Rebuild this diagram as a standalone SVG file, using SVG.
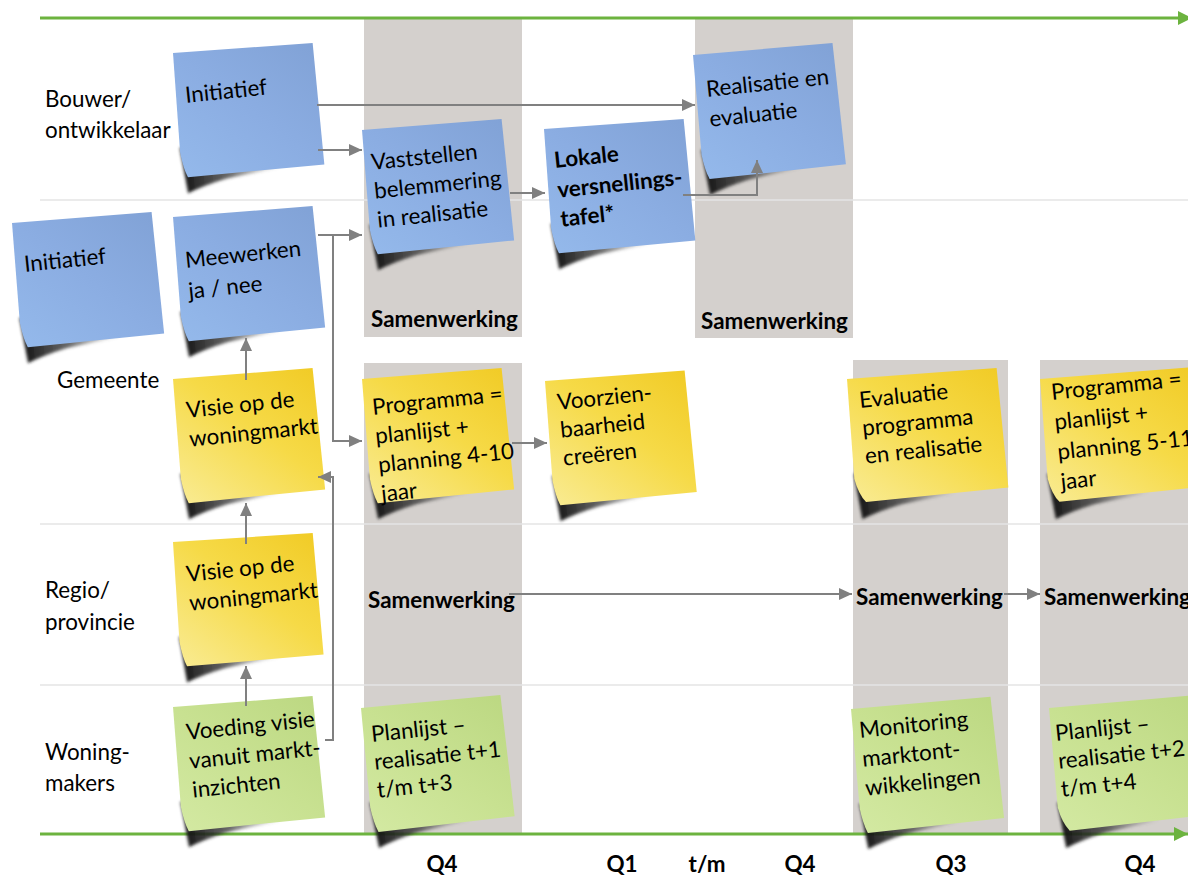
<svg xmlns="http://www.w3.org/2000/svg" width="1188" height="875" viewBox="0 0 1188 875">
<style>
  text { font-family: Lato, Carlito, "Liberation Sans", sans-serif; font-size: 22.4px; fill: #000; }
  .b { font-weight: bold; }
  .col { fill: #d4d0cd; }
  .sep { stroke: #e4e4e4; stroke-width: 1.5; fill: none; }
  .green { stroke: #6cb33f; stroke-width: 3; fill: none; marker-end: url(#ga); }
  .con { stroke: #808080; stroke-width: 2; fill: none; }
  .arr { marker-end: url(#a); }
  .q { font-weight: bold; text-anchor: middle; }
</style>
<defs>
  <marker id="a" markerUnits="userSpaceOnUse" markerWidth="13" markerHeight="12" refX="13" refY="6" orient="auto">
    <path d="M0,0 L13,6 L0,12 Z" fill="#808080"/>
  </marker>
  <marker id="ga" markerUnits="userSpaceOnUse" markerWidth="14" markerHeight="14" refX="14" refY="7" orient="auto">
    <path d="M0,0 L14,7 L0,14 Z" fill="#6cb33f"/>
  </marker>
  <linearGradient id="gBlue" x1="1" y1="0" x2="0" y2="1">
    <stop offset="0" stop-color="#81a2d6"/>
    <stop offset="0.5" stop-color="#8badE2"/>
    <stop offset="1" stop-color="#94b9eb"/>
  </linearGradient>
  <linearGradient id="gYellow" x1="1" y1="0" x2="0" y2="1">
    <stop offset="0" stop-color="#f1cb26"/>
    <stop offset="0.45" stop-color="#f6da47"/>
    <stop offset="1" stop-color="#f9eb92"/>
  </linearGradient>
  <linearGradient id="gGreen" x1="1" y1="0" x2="0" y2="1">
    <stop offset="0" stop-color="#bcd882"/>
    <stop offset="0.5" stop-color="#c8e191"/>
    <stop offset="1" stop-color="#d3e9a2"/>
  </linearGradient>
  <linearGradient id="gShadow" x1="0" y1="0" x2="1" y2="0">
    <stop offset="0" stop-color="#111" stop-opacity="1"/>
    <stop offset="0.45" stop-color="#333" stop-opacity="0.75"/>
    <stop offset="1" stop-color="#555" stop-opacity="0"/>
  </linearGradient>
  <filter id="blur" x="-20%" y="-20%" width="140%" height="140%">
    <feGaussianBlur stdDeviation="1.6"/>
  </filter>
  <path id="note" d="M0,0 L140,0 L143,122 L6,125 Q2,116 0,100 Z"/>
  <path id="noteW" d="M0,0 L150,0 L153,120 L10,124 Q3,116 0,100 Z"/>
  <path id="shadow" d="M0,95 L5,141 Q22,134 45,129 Q72,125 100,122 L100,112 Z" fill="url(#gShadow)" filter="url(#blur)"/>
</defs>

<!-- background bands -->
<g id="columns">
  <rect class="col" x="364" y="19" width="158" height="318"/>
  <rect class="col" x="695" y="19" width="158" height="319"/>
  <rect class="col" x="364" y="363" width="158" height="470"/>
  <rect class="col" x="853" y="360" width="155" height="473"/>
  <rect class="col" x="1040" y="360" width="148" height="473"/>
</g>
<g id="separators">
  <line class="sep" x1="40" y1="200" x2="1188" y2="200"/>
  <line class="sep" x1="40" y1="524" x2="1188" y2="524"/>
  <line class="sep" x1="40" y1="685" x2="1188" y2="685"/>
</g>
<g id="timeline">
  <line class="green" x1="40" y1="18" x2="1192" y2="18"/>
  <line class="green" x1="40" y1="834" x2="1188" y2="834"/>
</g>

<!-- lane labels -->
<g id="lanes">
  <text x="45" y="107">Bouwer/</text>
  <text x="45" y="138">ontwikkelaar</text>
  <text x="57" y="388">Gemeente</text>
  <text x="45" y="598">Regio/</text>
  <text x="45" y="630">provincie</text>
  <text x="45" y="760">Woning-</text>
  <text x="45" y="791">makers</text>
</g>

<!-- notes -->
<g id="n-initiatief-bouwer">
  <g transform="translate(173,53) rotate(-4.1)"><use href="#shadow"/><use href="#note" fill="url(#gBlue)"/></g>
  <text transform="translate(186,103) rotate(-6)">Initiatief</text>
</g>
<g id="n-initiatief-gemeente">
  <g transform="translate(12,223) rotate(-4.5)"><use href="#shadow"/><use href="#note" fill="url(#gBlue)"/></g>
  <text transform="translate(25,272) rotate(-6)">Initiatief</text>
</g>
<g id="n-meewerken">
  <g transform="translate(173,217) rotate(-4.5)"><use href="#shadow"/><use href="#note" fill="url(#gBlue)"/></g>
  <text transform="translate(186,268) rotate(-6)"><tspan x="0" y="0">Meewerken</tspan><tspan x="0" y="31">ja / nee</tspan></text>
</g>
<g id="n-vaststellen">
  <g transform="translate(362,130) rotate(-4.5)"><use href="#shadow"/><use href="#note" fill="url(#gBlue)"/></g>
  <text transform="translate(372,170) rotate(-6)"><tspan x="0" y="0">Vaststellen</tspan><tspan x="0" y="29">belemmering</tspan><tspan x="0" y="58">in realisatie</tspan></text>
</g>
<g id="n-lokale">
  <g transform="translate(544,129) rotate(-4.1)"><use href="#shadow"/><use href="#note" fill="url(#gBlue)"/></g>
  <text class="b" transform="translate(555,168) rotate(-6)"><tspan x="0" y="0">Lokale</tspan><tspan x="0" y="30">versnellings-</tspan><tspan x="0" y="59">tafel*</tspan></text>
</g>
<g id="n-realisatie">
  <g transform="translate(693,55) rotate(-4.9)"><use href="#shadow"/><use href="#note" fill="url(#gBlue)"/></g>
  <text transform="translate(707,97) rotate(-6)"><tspan x="0" y="0">Realisatie en</tspan><tspan x="0" y="30">evaluatie</tspan></text>
</g>
<g id="n-visie-gemeente">
  <g transform="translate(173,379) rotate(-4.5)"><use href="#shadow"/><use href="#note" fill="url(#gYellow)"/></g>
  <text transform="translate(187,418) rotate(-6)"><tspan x="0" y="0">Visie op de</tspan><tspan x="0" y="29">woningmarkt</tspan></text>
</g>
<g id="n-visie-regio">
  <g transform="translate(173,542) rotate(-3.7)"><use href="#shadow"/><use href="#note" fill="url(#gYellow)"/></g>
  <text transform="translate(187,582) rotate(-6)"><tspan x="0" y="0">Visie op de</tspan><tspan x="0" y="29">woningmarkt</tspan></text>
</g>
<g id="n-programma-1">
  <g transform="translate(362,379) rotate(-4.5)"><use href="#shadow"/><use href="#note" fill="url(#gYellow)"/></g>
  <text transform="translate(373,415) rotate(-6)"><tspan x="0" y="0">Programma =</tspan><tspan x="0" y="29">planlijst +</tspan><tspan x="0" y="58">planning 4-10</tspan><tspan x="0" y="87">jaar</tspan></text>
</g>
<g id="n-voorzienbaarheid">
  <g transform="translate(545,381) rotate(-4.3)"><use href="#shadow"/><use href="#note" fill="url(#gYellow)"/></g>
  <text transform="translate(558,410) rotate(-6)"><tspan x="0" y="0">Voorzien-</tspan><tspan x="0" y="28">baarheid</tspan><tspan x="0" y="56">creëren</tspan></text>
</g>
<g id="n-evaluatie">
  <g transform="translate(847,379) rotate(-4.2)"><use href="#shadow"/><use href="#noteW" fill="url(#gYellow)"/></g>
  <text transform="translate(860,408) rotate(-6)"><tspan x="0" y="0">Evaluatie</tspan><tspan x="0" y="28">programma</tspan><tspan x="0" y="56">en realisatie</tspan></text>
</g>
<g id="n-programma-2">
  <g transform="translate(1040,379) rotate(-4.4)"><use href="#shadow"/><use href="#noteW" fill="url(#gYellow)"/></g>
  <text transform="translate(1052,400) rotate(-6)"><tspan x="0" y="0">Programma =</tspan><tspan x="0" y="30">planlijst +</tspan><tspan x="0" y="60">planning 5-11</tspan><tspan x="0" y="90">jaar</tspan></text>
</g>
<g id="n-voeding">
  <g transform="translate(173,707) rotate(-4.5)"><use href="#shadow"/><use href="#note" fill="url(#gGreen)"/></g>
  <text transform="translate(187,740) rotate(-6)"><tspan x="0" y="0">Voeding visie</tspan><tspan x="0" y="29">vanuit markt-</tspan><tspan x="0" y="58">inzichten</tspan></text>
</g>
<g id="n-planlijst-1">
  <g transform="translate(361,708) rotate(-5.3)"><use href="#shadow"/><use href="#note" fill="url(#gGreen)"/></g>
  <text transform="translate(372,742) rotate(-6)"><tspan x="0" y="0">Planlijst –</tspan><tspan x="0" y="28">realisatie t+1</tspan><tspan x="0" y="56">t/m t+3</tspan></text>
</g>
<g id="n-monitoring">
  <g transform="translate(851,709) rotate(-5)"><use href="#shadow"/><use href="#note" fill="url(#gGreen)"/></g>
  <text transform="translate(860,738) rotate(-6)"><tspan x="0" y="0">Monitoring</tspan><tspan x="0" y="29">marktont-</tspan><tspan x="0" y="58">wikkelingen</tspan></text>
</g>
<g id="n-planlijst-2">
  <g transform="translate(1049,708) rotate(-5)"><use href="#shadow"/><use href="#noteW" fill="url(#gGreen)"/></g>
  <text transform="translate(1056,741) rotate(-6)"><tspan x="0" y="0">Planlijst –</tspan><tspan x="0" y="28">realisatie t+2</tspan><tspan x="0" y="56">t/m t+4</tspan></text>
</g>

<!-- samenwerking labels -->
<g id="samenwerking">
  <text class="b" x="371" y="327">Samenwerking</text>
  <text class="b" x="701" y="329">Samenwerking</text>
  <text class="b" x="368" y="608">Samenwerking</text>
  <text class="b" x="856" y="605">Samenwerking</text>
  <text class="b" x="1044" y="605">Samenwerking</text>
</g>

<!-- connectors -->
<g id="connectors">
  <path class="con arr" d="M317,105 H695"/>
  <path class="con arr" d="M318,150 H362"/>
  <path class="con arr" d="M318,235 H362"/>
  <path class="con arr" d="M333,235 V441 H362"/>
  <path class="con arr" d="M325,740 H333 V477 H318"/>
  <path class="con arr" d="M246,380 V338"/>
  <path class="con arr" d="M246,544 V503"/>
  <path class="con arr" d="M246,706 V666"/>
  <path class="con arr" d="M510,193 H545"/>
  <path class="con arr" d="M683,195 H757 V160"/>
  <path class="con arr" d="M512,443 H547"/>
  <path class="con arr" d="M509,594 H852"/>
  <path class="con arr" d="M1004,594 H1040"/>
</g>

<!-- period labels -->
<g id="periods">
  <text class="q" x="442" y="872">Q4</text>
  <text class="q" x="622" y="872">Q1</text>
  <text class="q" x="707" y="872">t/m</text>
  <text class="q" x="800" y="872">Q4</text>
  <text class="q" x="951" y="872">Q3</text>
  <text class="q" x="1140" y="872">Q4</text>
</g>
</svg>
